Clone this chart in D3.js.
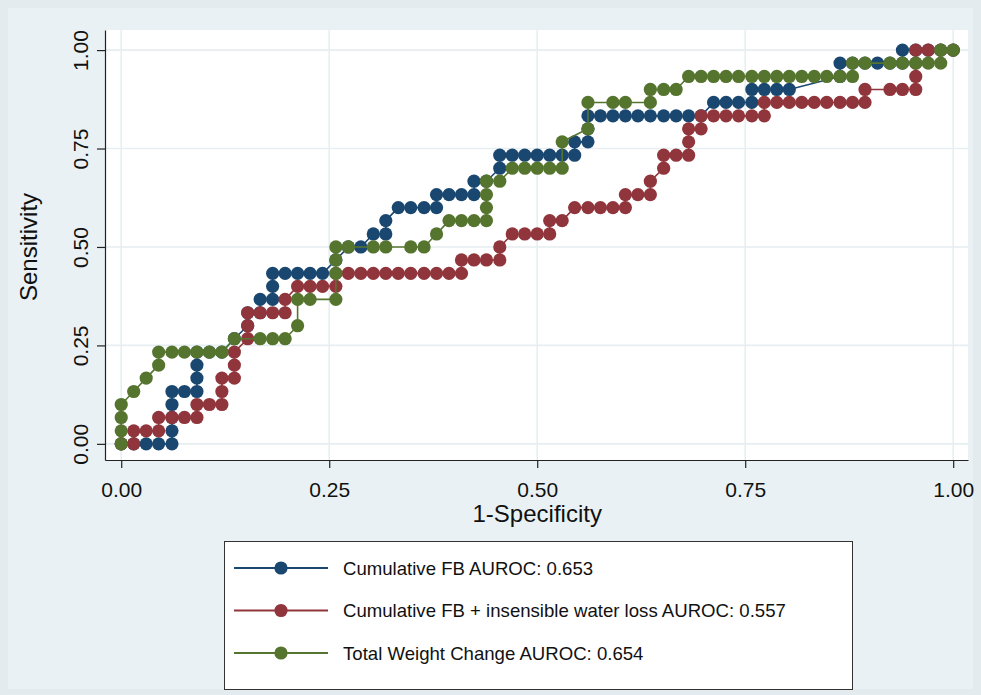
<!DOCTYPE html>
<html>
<head>
<meta charset="utf-8">
<script src="https://cdn.jsdelivr.net/npm/d3@7"></script>
<style>
  html, body { margin: 0; padding: 0; background: #e9eff2; }
  svg { display: block; }
  text { font-family: "Liberation Sans", Arial, Helvetica, sans-serif; fill: #111; }
</style>
</head>
<body>
<svg id="chart" width="981" height="695"></svg>
<script>
// ---- Data ----
const xTicks = [0, 0.25, 0.5, 0.75, 1];
const yTicks = [0, 0.25, 0.5, 0.75, 1];
const xTitle = "1-Specificity";
const yTitle = "Sensitivity";

const seriesNames = [
  "Cumulative FB AUROC: 0.653",
  "Cumulative FB + insensible water loss AUROC: 0.557",
  "Total Weight Change AUROC: 0.654"
];
const seriesColors = ["#1a476f", "#90353b", "#55752f"];

// Cumulative FB
const fbFpr = [0,.015,.030,.045,.061,.061,.061,.061,.061,.076,.091,.091,.091,.091,.106,.121,.136,.152,.152,.167,.167,.182,.182,.182,.197,.212,.227,.242,.258,.273,.288,.303,.318,.318,.333,.348,.364,.379,.379,.394,.409,.424,.424,.439,.455,.455,.470,.485,.500,.515,.530,.545,.545,.561,.561,.561,.576,.591,.606,.621,.636,.652,.667,.682,.697,.712,.727,.742,.758,.758,.773,.788,.803,.864,.864,.879,.894,.909,.924,.939,.939,.955,.970,.985,1];
const fbTpr = [0,0,0,0,0,.033,.067,.1,.133,.133,.133,.167,.2,.233,.233,.233,.267,.3,.333,.333,.367,.367,.4,.433,.433,.433,.433,.433,.467,.5,.5,.533,.533,.567,.6,.6,.6,.6,.633,.633,.633,.633,.667,.667,.7,.733,.733,.733,.733,.733,.733,.733,.767,.767,.8,.833,.833,.833,.833,.833,.833,.833,.833,.833,.833,.867,.867,.867,.867,.9,.9,.9,.9,.933,.967,.967,.967,.967,.967,.967,1,1,1,1,1];

// Cumulative FB + insensible water loss
const iwlFpr = [0,.015,.015,.030,.045,.045,.061,.076,.091,.091,.106,.121,.121,.121,.136,.136,.136,.152,.152,.152,.167,.182,.197,.197,.212,.227,.242,.258,.258,.273,.288,.303,.318,.333,.348,.364,.379,.394,.409,.409,.424,.439,.455,.455,.470,.485,.500,.515,.515,.530,.545,.561,.576,.591,.606,.606,.621,.636,.636,.652,.652,.667,.682,.682,.682,.697,.697,.712,.727,.742,.758,.773,.773,.788,.803,.818,.833,.848,.864,.879,.894,.894,.924,.939,.955,.955,.955,.955,.970,.985,1];
const iwlTpr = [0,0,.033,.033,.033,.067,.067,.067,.067,.1,.1,.1,.133,.167,.167,.2,.233,.267,.3,.333,.333,.333,.333,.367,.4,.4,.4,.4,.433,.433,.433,.433,.433,.433,.433,.433,.433,.433,.433,.467,.467,.467,.467,.5,.533,.533,.533,.533,.567,.567,.6,.6,.6,.6,.6,.633,.633,.633,.667,.7,.733,.733,.733,.767,.8,.8,.833,.833,.833,.833,.833,.833,.867,.867,.867,.867,.867,.867,.867,.867,.867,.9,.9,.9,.9,.933,.967,1,1,1,1];

// Total Weight Change
const twcFpr = [0,0,0,0,.015,.030,.045,.045,.061,.076,.091,.106,.121,.136,.167,.182,.197,.212,.212,.227,.258,.258,.258,.258,.273,.303,.318,.348,.364,.379,.394,.409,.424,.439,.439,.439,.439,.455,.470,.485,.500,.515,.530,.530,.561,.561,.591,.606,.636,.636,.652,.667,.682,.697,.712,.727,.742,.758,.773,.788,.803,.818,.833,.848,.864,.879,.879,.894,.924,.939,.955,.970,.985,.985,1];
const twcTpr = [0,.033,.067,.1,.133,.167,.2,.233,.233,.233,.233,.233,.233,.267,.267,.267,.267,.3,.367,.367,.367,.433,.467,.5,.5,.5,.5,.5,.5,.533,.567,.567,.567,.567,.6,.633,.667,.667,.7,.7,.7,.7,.7,.767,.8,.867,.867,.867,.867,.9,.9,.9,.933,.933,.933,.933,.933,.933,.933,.933,.933,.933,.933,.933,.933,.933,.967,.967,.967,.967,.967,.967,.967,1,1];

// ---- Drawing ----
const svg = d3.select("#chart");
const W = 981, H = 695;
const plot = { left: 105, right: 968, top: 30, bottom: 460 };

const x = d3.scaleLinear().domain([-0.0195, 1.0178]).range([plot.left, plot.right]);
const y = d3.scaleLinear().domain([-0.041, 1.051]).range([plot.bottom, plot.top]);

// backgrounds
svg.append("rect").attr("x", 0).attr("y", 0).attr("width", W).attr("height", H).attr("fill", "#e4ebef");
svg.append("rect").attr("x", 8).attr("y", 8).attr("width", W - 16).attr("height", H - 14).attr("fill", "#eaf1f4");
svg.append("rect").attr("x", plot.left).attr("y", plot.top)
  .attr("width", plot.right - plot.left).attr("height", plot.bottom - plot.top).attr("fill", "#ffffff");

// grid
const grid = svg.append("g");
grid.selectAll(".gx").data(xTicks).join("line")
  .attr("x1", d => x(d)).attr("x2", d => x(d))
  .attr("y1", plot.top).attr("y2", plot.bottom)
  .attr("stroke", "#e6eef1").attr("stroke-width", 1.6);
grid.selectAll(".gy").data(yTicks).join("line")
  .attr("y1", d => y(d)).attr("y2", d => y(d))
  .attr("x1", plot.left).attr("x2", plot.right)
  .attr("stroke", "#e6eef1").attr("stroke-width", 1.6);

// axes
const fmt = d3.format(".2f");
const xAxis = svg.append("g").attr("transform", `translate(0,${plot.bottom})`)
  .call(d3.axisBottom(x).tickValues(xTicks).tickFormat(fmt).tickSize(8).tickSizeOuter(0));
xAxis.selectAll("text").attr("font-size", 21).attr("dy", 0).attr("y", 37)
  .style("font-family", '"Liberation Sans", Arial, sans-serif').attr("fill", "#111");

const yAxis = svg.append("g").attr("transform", `translate(${plot.left},0)`)
  .call(d3.axisLeft(y).tickValues(yTicks).tickFormat(fmt).tickSize(8).tickSizeOuter(0));
yAxis.selectAll("text").attr("font-size", 21).attr("x", 0).attr("dy", 0)
  .attr("text-anchor", "middle")
  .attr("transform", "translate(-17,0) rotate(-90)")
  .style("font-family", '"Liberation Sans", Arial, sans-serif').attr("fill", "#111");

[xAxis, yAxis].forEach(a => {
  a.select(".domain").attr("stroke", "#222").attr("stroke-width", 1.2);
  a.selectAll(".tick line").attr("stroke", "#222").attr("stroke-width", 1.2);
});

// axis titles
svg.append("text").attr("x", x(0.5)).attr("y", 522).attr("text-anchor", "middle")
  .attr("font-size", 24).text(xTitle);
svg.append("text").attr("transform", `translate(37,${y(0.5)}) rotate(-90)`)
  .attr("text-anchor", "middle").attr("font-size", 24).text(yTitle);

// series
const seriesData = [
  d3.zip(fbFpr, fbTpr),
  d3.zip(iwlFpr, iwlTpr),
  d3.zip(twcFpr, twcTpr)
];
const line = d3.line().x(d => x(d[0])).y(d => y(d[1]));
const R = 6.6;
seriesData.forEach((pts, i) => {
  const g = svg.append("g");
  g.append("path").datum(pts).attr("d", line)
    .attr("fill", "none").attr("stroke", seriesColors[i]).attr("stroke-width", 1.6);
  g.selectAll("circle").data(pts).join("circle")
    .attr("cx", d => x(d[0])).attr("cy", d => y(d[1])).attr("r", R)
    .attr("fill", seriesColors[i]);
});

// legend
const lg = svg.append("g");
lg.append("rect").attr("x", 224.5).attr("y", 541.5).attr("width", 628).attr("height", 148)
  .attr("fill", "#ffffff").attr("stroke", "#333").attr("stroke-width", 1);
const legY = d3.scalePoint().domain(seriesNames).range([568, 653]);
seriesNames.forEach((name, i) => {
  const yy = legY(name);
  lg.append("line").attr("x1", 234).attr("x2", 328).attr("y1", yy).attr("y2", yy)
    .attr("stroke", seriesColors[i]).attr("stroke-width", 1.8);
  lg.append("circle").attr("cx", 281).attr("cy", yy).attr("r", R).attr("fill", seriesColors[i]);
  lg.append("text").attr("x", 343).attr("y", yy + 6.5).attr("font-size", 18.6).text(name);
});
</script>
</body>
</html>
